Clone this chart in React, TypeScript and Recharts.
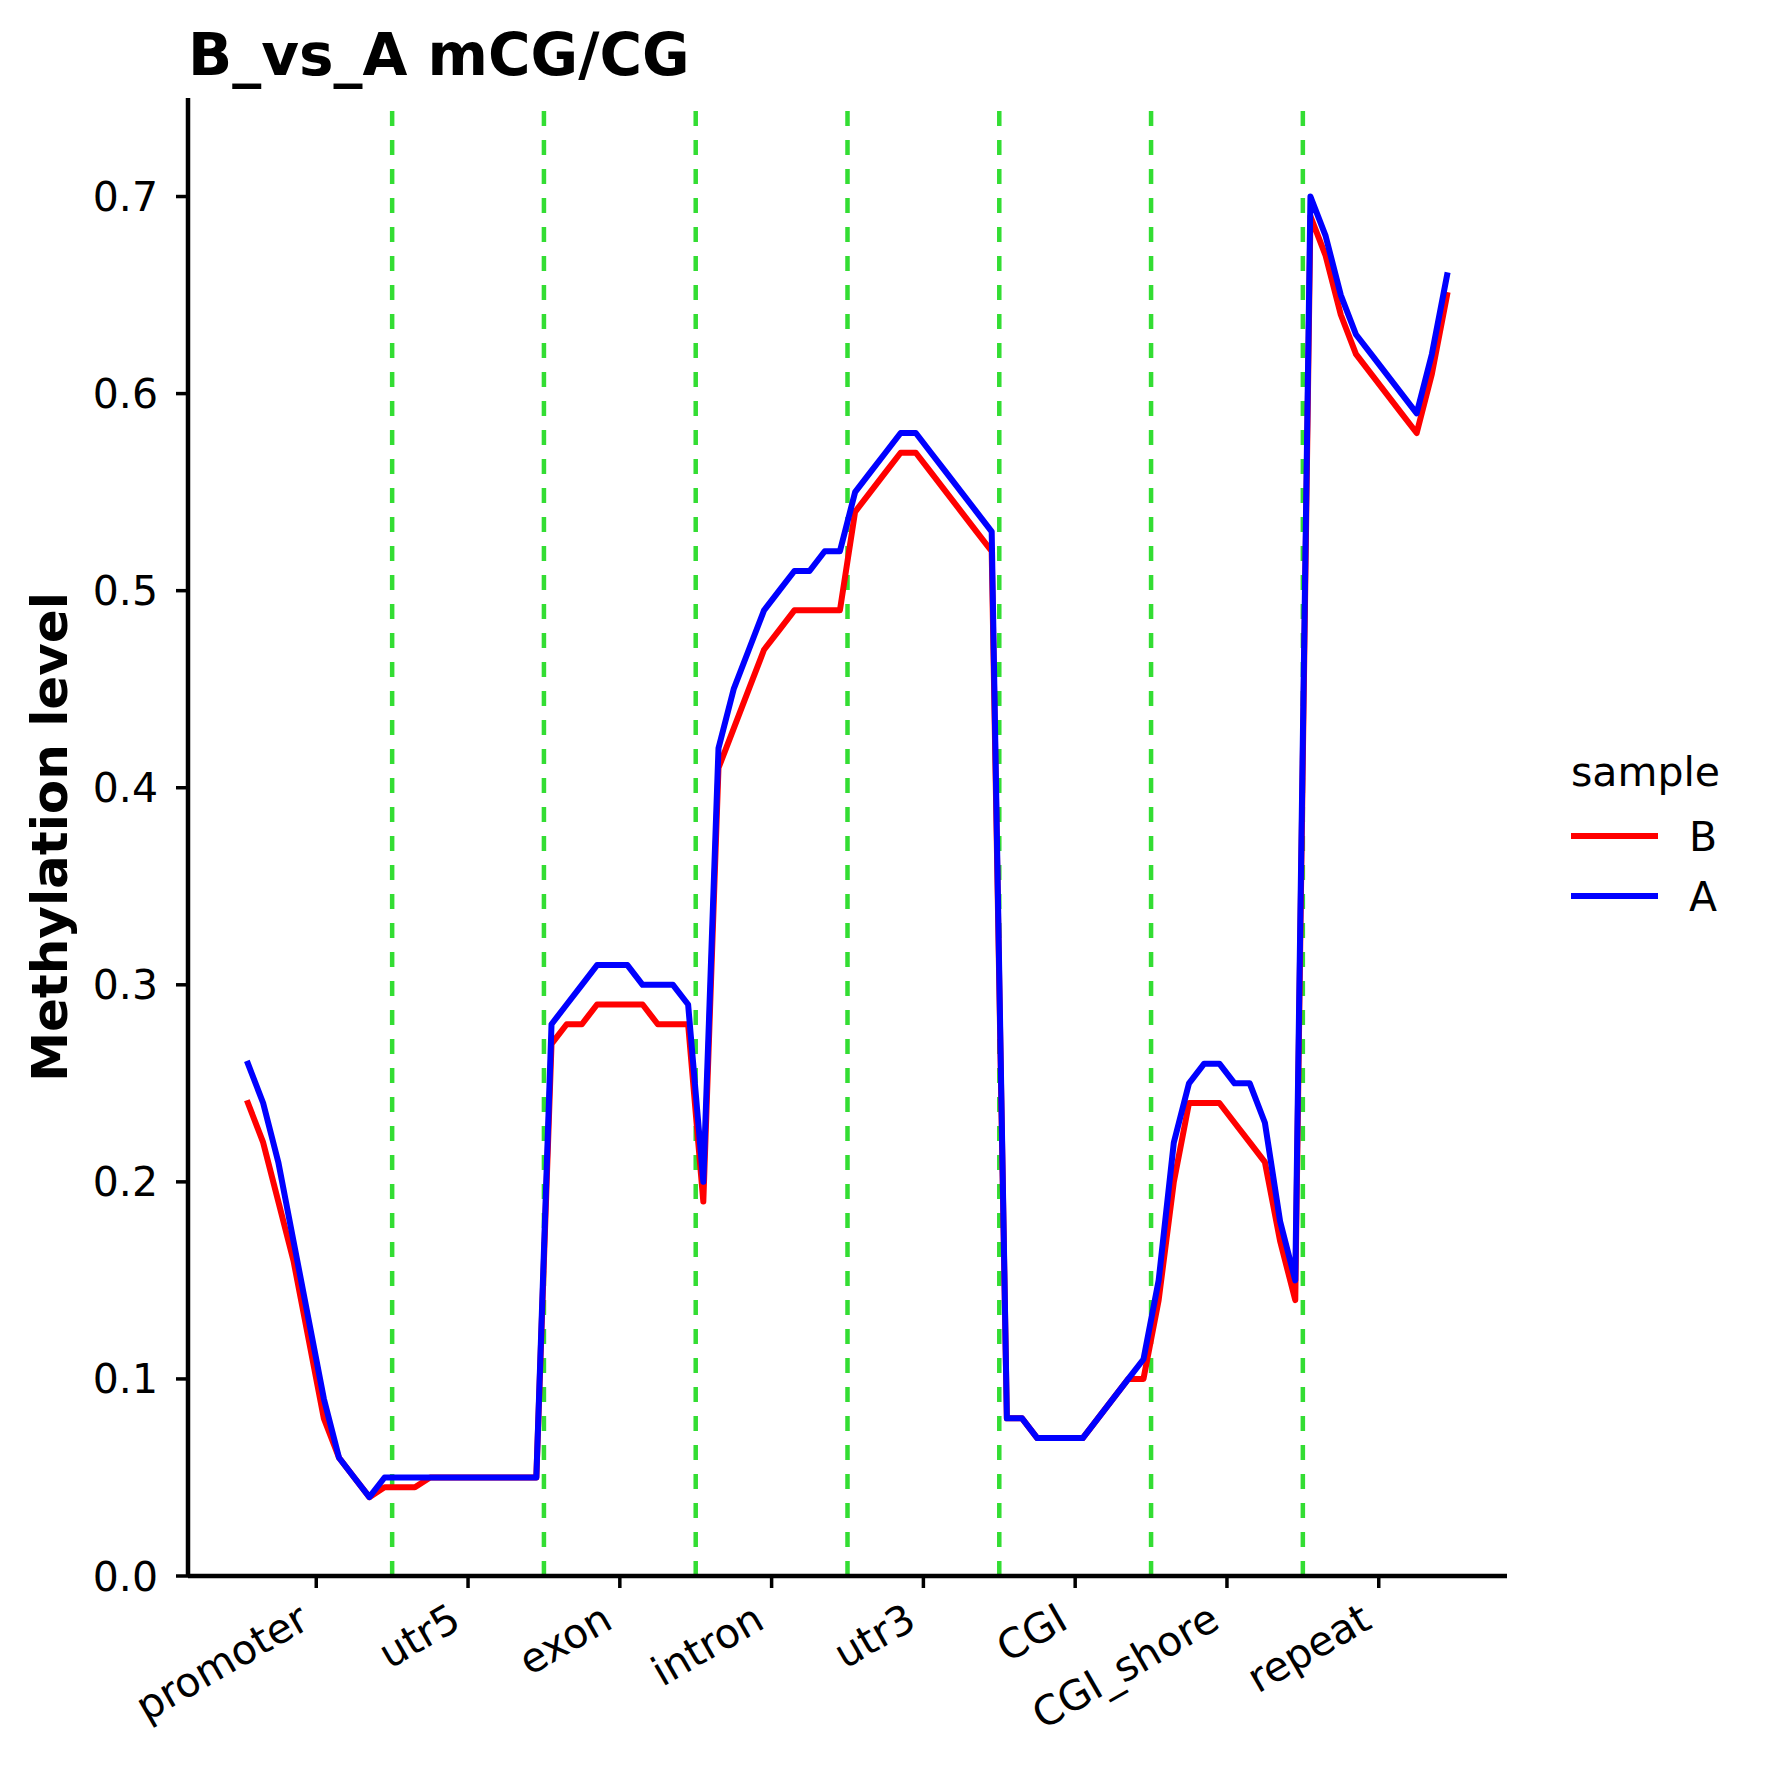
import { LineChart, Line, XAxis, YAxis, ReferenceLine } from 'recharts';

const REGIONS = ['promoter', 'utr5', 'exon', 'intron', 'utr3', 'CGI', 'CGI_shore', 'repeat'];
const BINS_PER_REGION = 10;

// sample B (red), 10 bins per region
const SAMPLE_B = [
    0.24, 0.22, 0.19, 0.16, 0.12, 0.08, 0.06, 0.05, 0.04, 0.045, // promoter
    0.045, 0.045, 0.05, 0.05, 0.05, 0.05, 0.05, 0.05, 0.05, 0.05, // utr5
    0.27, 0.28, 0.28, 0.29, 0.29, 0.29, 0.29, 0.28, 0.28, 0.28, // exon
    0.19, 0.41, 0.43, 0.45, 0.47, 0.48, 0.49, 0.49, 0.49, 0.49, // intron
    0.54, 0.55, 0.56, 0.57, 0.57, 0.56, 0.55, 0.54, 0.53, 0.52, // utr3
    0.08, 0.08, 0.07, 0.07, 0.07, 0.07, 0.08, 0.09, 0.1, 0.1, // CGI
    0.14, 0.2, 0.24, 0.24, 0.24, 0.23, 0.22, 0.21, 0.17, 0.14, // CGI_shore
    0.69, 0.67, 0.64, 0.62, 0.61, 0.6, 0.59, 0.58, 0.61, 0.65, // repeat
];

// sample A (blue)
const SAMPLE_A = [
    0.26, 0.24, 0.21, 0.17, 0.13, 0.09, 0.06, 0.05, 0.04, 0.05, // promoter
    0.05, 0.05, 0.05, 0.05, 0.05, 0.05, 0.05, 0.05, 0.05, 0.05, // utr5
    0.28, 0.29, 0.3, 0.31, 0.31, 0.31, 0.3, 0.3, 0.3, 0.29, // exon
    0.2, 0.42, 0.45, 0.47, 0.49, 0.5, 0.51, 0.51, 0.52, 0.52, // intron
    0.55, 0.56, 0.57, 0.58, 0.58, 0.57, 0.56, 0.55, 0.54, 0.53, // utr3
    0.08, 0.08, 0.07, 0.07, 0.07, 0.07, 0.08, 0.09, 0.1, 0.11, // CGI
    0.15, 0.22, 0.25, 0.26, 0.26, 0.25, 0.25, 0.23, 0.18, 0.15, // CGI_shore
    0.7, 0.68, 0.65, 0.63, 0.62, 0.61, 0.6, 0.59, 0.62, 0.66, // repeat
];

const Y_TICKS = [0, 0.1, 0.2, 0.3, 0.4, 0.5, 0.6, 0.7];

const FONT = 'DejaVu Sans';
const TICK_FONT = 41;

const data = SAMPLE_B.map((b, i) => ({ x: i + 0.5, B: b, A: SAMPLE_A[i] }));
const regionTicks = REGIONS.map((_, k) => k * BINS_PER_REGION + BINS_PER_REGION / 2);
const boundaries = REGIONS.slice(1).map((_, k) => (k + 1) * BINS_PER_REGION);

const RegionTick = ({ x, y, payload }: any) => {
    const name = REGIONS[Math.floor(payload.value / BINS_PER_REGION)];
    const ax = x - 5;
    const ay = y + 39;
    return (
        <text
            x={ax}
            y={ay}
            textAnchor="end"
            transform={`rotate(-30, ${ax}, ${ay})`}
            fontSize={TICK_FONT}
            fontFamily={FONT}
            fill="#000"
        >
            {name}
        </text>
    );
};

const App = () => {
    return (
        <div
            style={{
                position: 'absolute',
                left: 0,
                top: 0,
                width: 1768,
                height: 1769,
                background: '#fff',
            }}
        >
            <LineChart
                width={1768}
                height={1769}
                data={data}
                margin={{ top: 98, right: 261, bottom: 43, left: 0 }}
            >
                <XAxis
                    dataKey="x"
                    type="number"
                    domain={[-3.45, 83.45]}
                    allowDataOverflow
                    ticks={regionTicks}
                    interval={0}
                    height={150}
                    tickSize={12}
                    tickMargin={0}
                    axisLine={{ stroke: '#000', strokeWidth: 4.5 }}
                    tickLine={{ stroke: '#000', strokeWidth: 3.5 }}
                    tick={<RegionTick />}
                />
                <YAxis
                    type="number"
                    domain={[0, 0.75]}
                    allowDataOverflow
                    ticks={Y_TICKS}
                    interval={0}
                    width={188}
                    tickSize={12}
                    tickMargin={18}
                    tickFormatter={(v: number) => v.toFixed(1)}
                    axisLine={{ stroke: '#000', strokeWidth: 4.5 }}
                    tickLine={{ stroke: '#000', strokeWidth: 3.5 }}
                    tick={{ fontSize: TICK_FONT, fontFamily: FONT, fill: '#000' }}
                />
                {boundaries.map((b) => (
                    <ReferenceLine
                        key={`sep-${b}`}
                        x={b}
                        stroke="#33dd33"
                        strokeWidth={4.5}
                        strokeDasharray="15 14"
                    />
                ))}
                <Line
                    dataKey="B"
                    stroke="#ff0000"
                    strokeWidth={6}
                    strokeLinejoin="round"
                    strokeLinecap="square"
                    dot={false}
                    isAnimationActive={false}
                />
                <Line
                    dataKey="A"
                    stroke="#0000ff"
                    strokeWidth={6}
                    strokeLinejoin="round"
                    strokeLinecap="square"
                    dot={false}
                    isAnimationActive={false}
                />
            </LineChart>
            <svg
                width={1768}
                height={1769}
                style={{ position: 'absolute', left: 0, top: 0, pointerEvents: 'none' }}
            >
                <text x={188} y={75} fontSize={58} fontWeight="bold" fontFamily={FONT} fill="#000">
                    B_vs_A mCG/CG
                </text>
                <text
                    x={67}
                    y={837}
                    textAnchor="middle"
                    transform="rotate(-90, 67, 837)"
                    fontSize={50}
                    fontWeight="bold"
                    fontFamily={FONT}
                    fill="#000"
                >
                    Methylation level
                </text>
                <text x={1571} y={786} fontSize={41} fontFamily={FONT} fill="#000">
                    sample
                </text>
                <line x1={1571} x2={1658} y1={836} y2={836} stroke="#ff0000" strokeWidth={6} />
                <text x={1689} y={851} fontSize={41} fontFamily={FONT} fill="#000">
                    B
                </text>
                <line x1={1571} x2={1658} y1={896} y2={896} stroke="#0000ff" strokeWidth={6} />
                <text x={1689} y={911} fontSize={41} fontFamily={FONT} fill="#000">
                    A
                </text>
            </svg>
        </div>
    );
};

export default App;
